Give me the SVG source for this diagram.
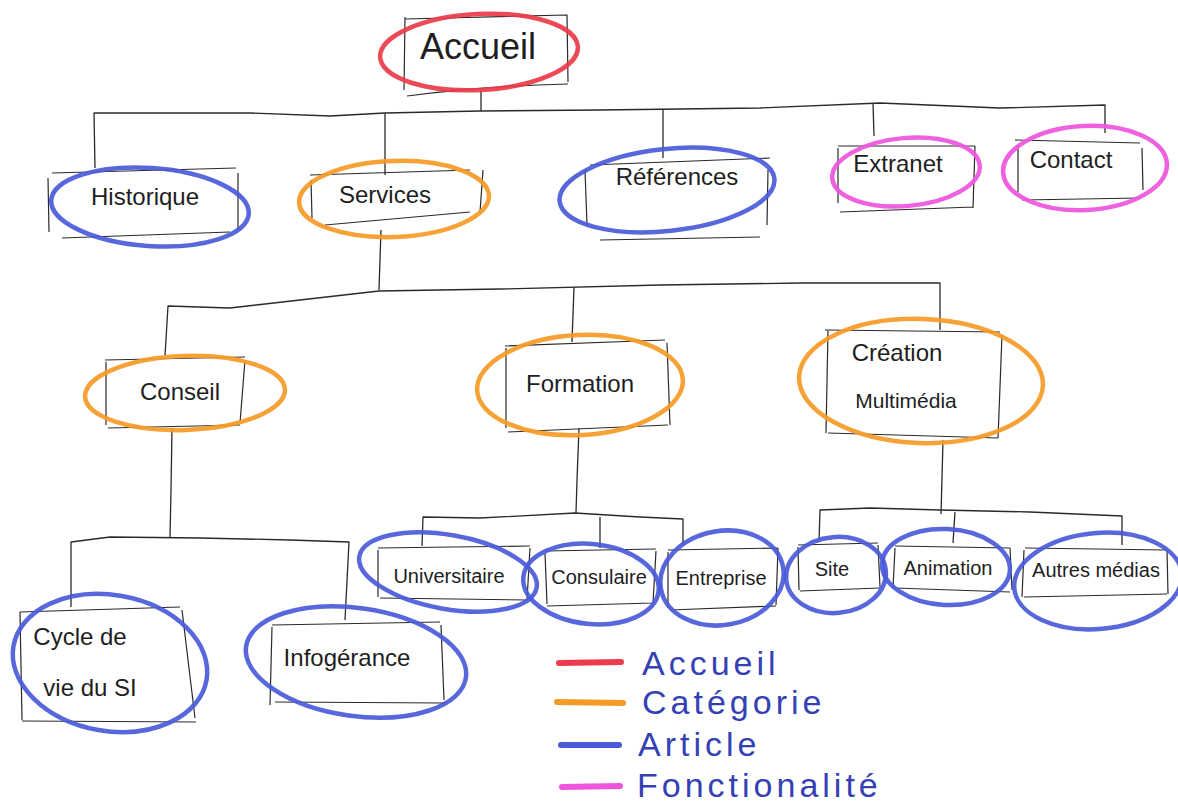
<svg xmlns="http://www.w3.org/2000/svg" width="1178" height="802" viewBox="0 0 1178 802">
  <style>
    .box { fill: none; stroke: #2a2a2a; stroke-width: 1.2; stroke-linejoin: round; }
    .wire { fill: none; stroke: #2a2a2a; stroke-width: 1.3; stroke-linejoin: round; }
    .lbl { font-family: "Liberation Sans", "DejaVu Sans", sans-serif; font-size: 24px; fill: #1e1e1e; text-anchor: middle; }
    .ring { fill: none; stroke-width: 4.5; stroke-linecap: round; opacity: 0.92; }
    .home { stroke: #ec3b4a; }
    .cat { stroke: #f59a25; }
    .art { stroke: #4a5ad8; }
    .fn { stroke: #ee55dc; }
    .key { stroke-width: 6; stroke-linecap: round; }
    .keytxt { font-family: "Liberation Sans", "DejaVu Sans", sans-serif; font-size: 34px; fill: #3441b4; letter-spacing: 4px; }
  </style>

  <rect width="1178" height="802" fill="#ffffff"/>

  <!-- connectors -->
  <g id="connectors">
    <!-- Accueil to first level -->
    <polyline class="wire" points="481,90 481,111"/>
    <polyline class="wire" points="95,168 94,113 250,113 330,116 385,113 480,111 600,110 760,108 880,103 1000,108 1105,105 1105,133"/>
    <polyline class="wire" points="385,113 385,175"/>
    <polyline class="wire" points="663,110 663,158"/>
    <polyline class="wire" points="873,103 874,136"/>
    <!-- Services to categories -->
    <polyline class="wire" points="381,230 380,260 379,290"/>
    <polyline class="wire" points="165,356 168,306 230,308 300,300 379,291 500,289 660,285 800,283 940,283 940,330"/>
    <polyline class="wire" points="574,287 572,342"/>
    <!-- Conseil to articles -->
    <polyline class="wire" points="172,428 171,490 170,537"/>
    <polyline class="wire" points="71,607 71,542 110,537 200,538 290,540 349,542 345,620"/>
    <!-- Formation to articles -->
    <polyline class="wire" points="579,428 577,480 576,513"/>
    <polyline class="wire" points="422,546 423,517 480,518 575,513 640,517 683,519 683,545"/>
    <polyline class="wire" points="600,517 600,548"/>
    <!-- Création Multimédia to articles -->
    <polyline class="wire" points="943,440 942,478 941,514"/>
    <polyline class="wire" points="819,542 820,510 870,508 940,510 1030,512 1122,516 1122,545"/>
    <polyline class="wire" points="955,512 953,543"/>
  </g>

  <!-- level 0 -->
  <g id="node-accueil">
    <path class="box" d="M405,19 L567,15 L568,82 M405,17 L404,90 M407,96 Q480,86 568,84"/>
    <text class="lbl" x="478" y="59" style="font-size:36px">Accueil</text>
    <ellipse class="ring home" cx="479" cy="52" rx="99" ry="38" transform="rotate(-3 479 52)"/>
  </g>

  <!-- level 1 -->
  <g id="node-historique">
    <path class="box" d="M52,173 L236,168 M48,178 L49,232 M238,173 L238,230 M62,238 L230,232"/>
    <text class="lbl" x="145" y="205">Historique</text>
    <ellipse class="ring art" cx="150" cy="207" rx="99" ry="39" transform="rotate(4 150 207)"/>
  </g>

  <g id="node-services">
    <path class="box" d="M310,175 L470,170 M311,180 L312,218 M483,170 L480,212 M325,225 L470,212"/>
    <text class="lbl" x="385" y="203">Services</text>
    <ellipse class="ring cat" cx="394" cy="199" rx="95" ry="38" transform="rotate(-2 394 199)"/>
  </g>

  <g id="node-references">
    <path class="box" d="M590,165 L770,158 M585,170 L587,225 M768,170 L767,225 M600,240 L760,237"/>
    <text class="lbl" x="677" y="185">Références</text>
    <ellipse class="ring art" cx="667" cy="190" rx="108" ry="41" transform="rotate(-6 667 190)"/>
  </g>

  <g id="node-extranet">
    <path class="box" d="M838,146 L975,146 M838,148 L838,203 M975,146 L973,208 M840,212 L973,207"/>
    <text class="lbl" x="898" y="172">Extranet</text>
    <ellipse class="ring fn" cx="906" cy="172" rx="74" ry="34" transform="rotate(-5 906 172)"/>
  </g>

  <g id="node-contact">
    <path class="box" d="M1015,140 L1140,143 M1018,145 L1018,192 M1142,148 L1143,190 M1022,200 L1140,198"/>
    <text class="lbl" x="1071" y="168">Contact</text>
    <ellipse class="ring fn" cx="1085" cy="168" rx="82" ry="42" transform="rotate(-3 1085 168)"/>
  </g>

  <!-- level 2 -->
  <g id="node-conseil">
    <path class="box" d="M105,360 L245,357 M106,362 L106,425 M245,360 L240,423 M108,428 L240,425"/>
    <text class="lbl" x="180" y="400">Conseil</text>
    <ellipse class="ring cat" cx="185" cy="393" rx="100" ry="37" transform="rotate(-2 185 393)"/>
  </g>

  <g id="node-formation">
    <path class="box" d="M505,346 L665,340 M506,348 L506,428 M667,343 L670,425 M508,432 L668,425"/>
    <text class="lbl" x="580" y="392">Formation</text>
    <ellipse class="ring cat" cx="580" cy="385" rx="103" ry="50" transform="rotate(-3 580 385)"/>
  </g>

  <g id="node-creation">
    <path class="box" d="M825,330 L1000,332 M828,330 L826,433 M1002,335 L998,438 M828,433 L998,438"/>
    <text class="lbl" x="897" y="361">Création</text>
    <text class="lbl" x="906" y="408" style="font-size:21px">Multimédia</text>
    <ellipse class="ring cat" cx="921" cy="381" rx="122" ry="62" transform="rotate(2 921 381)"/>
  </g>

  <!-- level 3: Conseil -->
  <g id="node-cycle">
    <path class="box" d="M20,612 L180,607 M20,612 L22,720 M182,610 L195,718 M22,721 L196,722"/>
    <text class="lbl" x="80" y="645">Cycle de</text>
    <text class="lbl" x="90" y="696">vie du SI</text>
    <ellipse class="ring art" cx="110" cy="663" rx="98" ry="68" transform="rotate(10 110 663)"/>
  </g>

  <g id="node-infogerance">
    <path class="box" d="M272,625 L440,622 M272,627 L270,705 M441,625 L444,700 M275,702 L445,703"/>
    <text class="lbl" x="347" y="666">Infogérance</text>
    <ellipse class="ring art" cx="356" cy="662" rx="111" ry="54" transform="rotate(8 356 662)"/>
  </g>

  <!-- level 3: Formation -->
  <g id="node-universitaire">
    <path class="box" d="M378,548 L530,546 M378,550 L378,597 M530,548 L527,600 M380,598 L528,600"/>
    <text class="lbl" x="449" y="583" style="font-size:20px">Universitaire</text>
    <ellipse class="ring art" cx="448" cy="572" rx="90" ry="37" transform="rotate(10 448 572)"/>
  </g>

  <g id="node-consulaire">
    <path class="box" d="M545,551 L656,549 M545,553 L547,604 M656,551 L653,603 M547,606 L653,603"/>
    <text class="lbl" x="599" y="584" style="font-size:20px">Consulaire</text>
    <ellipse class="ring art" cx="591" cy="584" rx="68" ry="40" transform="rotate(6 591 584)"/>
  </g>

  <g id="node-entreprise">
    <path class="box" d="M668,550 L778,548 M668,552 L668,608 M778,548 L776,605 M670,610 L776,606"/>
    <text class="lbl" x="721" y="585" style="font-size:20px">Entreprise</text>
    <ellipse class="ring art" cx="722" cy="578" rx="62" ry="47" transform="rotate(-10 722 578)"/>
  </g>

  <!-- level 3: Création Multimédia -->
  <g id="node-site">
    <path class="box" d="M798,545 L878,543 M798,547 L799,590 M878,545 L880,587 M800,591 L880,588"/>
    <text class="lbl" x="832" y="576" style="font-size:20px">Site</text>
    <ellipse class="ring art" cx="836" cy="575" rx="50" ry="38" transform="rotate(-5 836 575)"/>
  </g>

  <g id="node-animation">
    <path class="box" d="M895,546 L1010,548 M895,548 L893,588 M1010,548 L1012,590 M895,588 L1010,592"/>
    <text class="lbl" x="948" y="575" style="font-size:20px">Animation</text>
    <ellipse class="ring art" cx="946" cy="567" rx="64" ry="38" transform="rotate(3 946 567)"/>
  </g>

  <g id="node-autres">
    <path class="box" d="M1025,548 L1167,550 M1024,550 L1022,597 M1167,550 L1168,594 M1024,597 L1167,594"/>
    <text class="lbl" x="1096" y="577" style="font-size:20px">Autres médias</text>
    <ellipse class="ring art" cx="1098" cy="581" rx="84" ry="48" transform="rotate(-5 1098 581)"/>
  </g>

  <!-- legend -->
  <g id="legend">
    <line class="key" x1="559" y1="663" x2="621" y2="662" stroke="#ec3b4a"/>
    <line class="key" x1="557" y1="702" x2="623" y2="703" stroke="#f59a25"/>
    <line class="key" x1="561" y1="745" x2="619" y2="745" stroke="#4a5ad8"/>
    <line class="key" x1="562" y1="787" x2="620" y2="786" stroke="#ee55dc"/>
    <text class="keytxt" x="642" y="675">Accueil</text>
    <text class="keytxt" x="642" y="714">Catégorie</text>
    <text class="keytxt" x="638" y="756">Article</text>
    <text class="keytxt" x="637" y="797">Fonctionalité</text>
  </g>
</svg>
